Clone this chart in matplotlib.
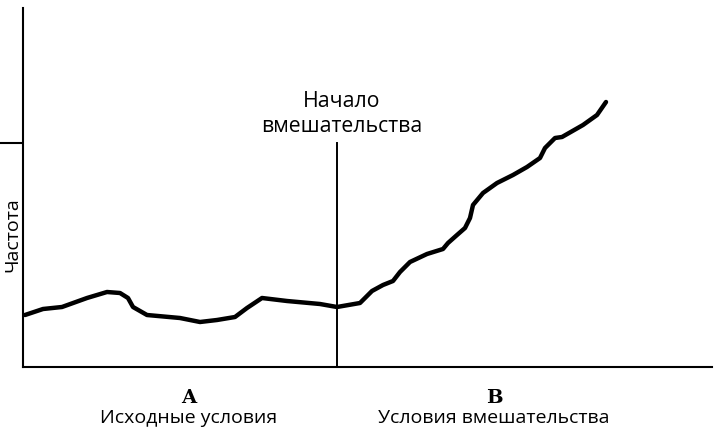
import matplotlib
matplotlib.use("Agg")
import matplotlib.pyplot as plt

# time (arbitrary units) and frequency (arbitrary units)
t = [2, 20, 39, 64, 84, 97, 105, 110, 124, 157, 177, 194, 212, 224, 239, 264,
     297, 314, 337, 349, 360, 370, 377, 387, 404, 420, 425, 434, 442, 447, 450,
     460, 474, 490, 504, 517, 522, 532, 539, 560, 574, 583]
freq = [52, 58, 60, 69, 75, 74, 69, 60, 52, 49, 45, 47, 50, 59, 69, 66,
        63, 60, 64, 76, 82, 86, 95, 105, 113, 118, 124, 132, 139, 149, 162,
        174, 184, 192, 200, 209, 219, 229, 230, 242, 252, 265]
t_start = 314
phase_x = [166, 471]
phase_letters = ["A", "B"]
phase_names = ["Исходные условия", "Условия вмешательства"]

fig = plt.figure(figsize=(7.2, 4.38), dpi=100)
ax = fig.add_axes([23 / 720, 71 / 438, 689 / 720, 359 / 438])
ax.set_xlim(0, 689)
ax.set_ylim(0, 359)
for s in ["top", "right"]:
    ax.spines[s].set_visible(False)
ax.spines["left"].set_linewidth(1.5)
ax.spines["bottom"].set_linewidth(1.5)
ax.set_xticks([])
ax.set_yticks([224])
ax.set_yticklabels([])
ax.tick_params(axis="y", length=20, width=1.5, direction="out")

ax.plot(t, freq, color="black", lw=3.2, solid_capstyle="round", solid_joinstyle="round")
ax.plot([t_start, t_start], [0, 224], color="black", lw=1.4)
ax.text(t_start + 5, 230, "Начало\nвмешательства", ha="center", va="bottom",
        fontsize=15.3, family="Open Sans", linespacing=1.25)

for x, letter, name in zip(phase_x, phase_letters, phase_names):
    ax.text(x, -31, letter, ha="center", va="center", fontsize=14,
            family="DejaVu Serif", fontweight="bold", clip_on=False)
    ax.text(x, -51, name, ha="center", va="center", fontsize=14,
            family="Open Sans", clip_on=False)

fig.text(12 / 720, 1 - 235 / 438, "Частота", rotation=90, ha="center", va="center",
         fontsize=14, family="Open Sans")

fig.savefig("out.png", dpi=100)
